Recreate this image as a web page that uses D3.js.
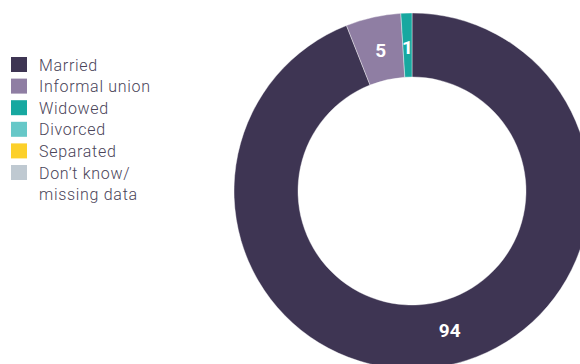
<!DOCTYPE html>
<html>
<head>
<meta charset="utf-8">
<script src="https://cdn.jsdelivr.net/npm/d3@7"></script>
<style>
  body { margin: 0; background: #fff; }
  svg { display: block; }
  .legend text { font-family: Roboto, "Noto Sans", sans-serif; font-weight: 300; font-size: 16px; letter-spacing: 0.7px; fill: #4a4459; }
  .slice-label { font-family: Roboto, "Noto Sans", sans-serif; font-weight: 700; font-size: 19px; fill: #fff; }
</style>
</head>
<body>
<svg width="580" height="364"></svg>
<script>
// categories and shares (%)
const categories = ["Married", "Informal union", "Widowed", "Divorced", "Separated", "Don\u2019t know/\nmissing data"];
const values = [94, 5, 1, 0, 0, 0];
const colors = ["#3e3553", "#8f7ea3", "#17a8a0", "#66c8c8", "#fcd02a", "#bfc9d1"];

const width = 580, height = 364;
const cx = 412, cy = 191;
const outerR = 178, innerR = 114;

const svg = d3.select("svg");

const data = categories.map((c, i) => ({ name: c, value: values[i], color: colors[i] }));

// PIE
const pie = d3.pie()
    .sort(null)
    .value(d => d.value);

const arc = d3.arc()
    .innerRadius(innerR)
    .outerRadius(outerR);

const arcs = pie(data).filter(d => d.data.value > 0);

const g = svg.append("g")
    .attr("transform", `translate(${cx}, ${cy})`);

g.selectAll("path")
    .data(arcs)
    .join("path")
    .attr("d", arc)
    .attr("fill", d => d.data.color)
    .attr("stroke", "#fff")
    .attr("stroke-width", 0.4);

// big slice label sits a little left of its centroid
const labelArc = d => {
    const t = d.data.value > 50 ? 0.487 : 0.5;
    const a = d.startAngle + (d.endAngle - d.startAngle) * t;
    const r = (innerR + outerR) / 2 - 2;
    return [Math.sin(a) * r, -Math.cos(a) * r];
};

g.selectAll("text.slice-label")
    .data(arcs)
    .join("text")
    .attr("class", "slice-label")
    .attr("transform", d => `translate(${labelArc(d)})`)
    .attr("text-anchor", "middle")
    .attr("dy", "0.36em")
    .text(d => d.data.value);

// LEGEND
const legend = svg.append("g")
    .attr("class", "legend")
    .attr("transform", "translate(11, 57)");

const row = legend.selectAll("g")
    .data(data)
    .join("g")
    .attr("transform", (d, i) => `translate(0, ${i * 21.6})`);

row.append("rect")
    .attr("width", 16)
    .attr("height", 15)
    .attr("fill", d => d.color);

row.append("text")
    .attr("x", 28)
    .attr("y", 13.5)
    .selectAll("tspan")
    .data(d => d.name.split("\n"))
    .join("tspan")
    .attr("x", 28)
    .attr("dy", (d, i) => i === 0 ? 0 : 21.6)
    .text(d => d);
</script>
</body>
</html>
